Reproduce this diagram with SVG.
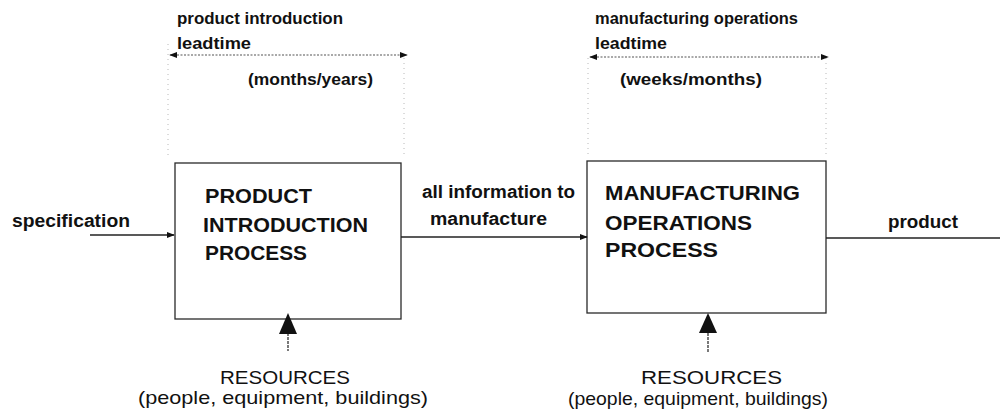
<svg xmlns="http://www.w3.org/2000/svg" width="1000" height="416" viewBox="0 0 1000 416">
  <style>
    .bg { fill: #ffffff; }
    .box { fill: none; stroke: #2a2a2a; stroke-width: 1.3; }
    .flow { fill: none; stroke: #222; stroke-width: 1.3; }
    .span { fill: none; stroke: #555; stroke-width: 1.2; stroke-dasharray: 2 1.5; }
    .guide { fill: none; stroke: #b8b8b8; stroke-width: 1; stroke-dasharray: 1 4; }
    .stem { fill: none; stroke: #222; stroke-width: 1.2; stroke-dasharray: 3 1; }
    .head { fill: #111; }
    text { font-family: "Liberation Sans", Arial, sans-serif; fill: #111; }
    .note { font-size: 16px; font-weight: bold; }
    .title { font-size: 21px; font-weight: bold; }
    .label { font-size: 18px; font-weight: bold; }
    .res { font-size: 19px; }
  </style>
  <defs>
    <marker id="arrow" viewBox="0 0 10 10" refX="9" refY="5" markerWidth="8" markerHeight="8" markerUnits="userSpaceOnUse" orient="auto-start-reverse">
      <path d="M0,1 L10,5 L0,9 Z" class="head"/>
    </marker>
  </defs>
  <rect class="bg" x="0" y="0" width="1000" height="416"/>

  <!-- lead-time spans above each process -->
  <g id="lead-product">
    <line class="guide" x1="168" y1="44" x2="168" y2="158"/>
    <line class="guide" x1="404" y1="58" x2="404" y2="158"/>
    <line class="span" x1="170" y1="55" x2="407" y2="55" marker-start="url(#arrow)" marker-end="url(#arrow)"/>
    <text class="note" x="177" y="24" textLength="166" lengthAdjust="spacingAndGlyphs">product introduction</text>
    <text class="note" x="177" y="49" textLength="74" lengthAdjust="spacingAndGlyphs">leadtime</text>
    <text class="note" x="248" y="85" textLength="125" lengthAdjust="spacingAndGlyphs">(months/years)</text>
  </g>
  <g id="lead-manufacturing">
    <line class="guide" x1="588" y1="58" x2="588" y2="156"/>
    <line class="guide" x1="826" y1="58" x2="826" y2="156"/>
    <line class="span" x1="590" y1="57" x2="828" y2="57" marker-start="url(#arrow)" marker-end="url(#arrow)"/>
    <text class="note" x="595" y="24" textLength="203" lengthAdjust="spacingAndGlyphs">manufacturing operations</text>
    <text class="note" x="595" y="49" textLength="72" lengthAdjust="spacingAndGlyphs">leadtime</text>
    <text class="note" x="620" y="85" textLength="142" lengthAdjust="spacingAndGlyphs">(weeks/months)</text>
  </g>

  <!-- process boxes -->
  <g id="product-introduction">
    <rect class="box" x="175" y="163" width="226" height="156"/>
    <text class="title" x="205" y="203" textLength="107" lengthAdjust="spacingAndGlyphs">PRODUCT</text>
    <text class="title" x="203" y="232" textLength="165" lengthAdjust="spacingAndGlyphs">INTRODUCTION</text>
    <text class="title" x="205" y="260" textLength="102" lengthAdjust="spacingAndGlyphs">PROCESS</text>
  </g>
  <g id="manufacturing-operations">
    <rect class="box" x="587" y="161" width="239" height="152"/>
    <text class="title" x="605" y="200" textLength="195" lengthAdjust="spacingAndGlyphs">MANUFACTURING</text>
    <text class="title" x="605" y="230" textLength="147" lengthAdjust="spacingAndGlyphs">OPERATIONS</text>
    <text class="title" x="605" y="257" textLength="113" lengthAdjust="spacingAndGlyphs">PROCESS</text>
  </g>

  <!-- resource inputs -->
  <g id="resources-product">
    <text class="res" x="220" y="384" textLength="130" lengthAdjust="spacingAndGlyphs">RESOURCES</text>
    <text class="res" x="138" y="404" textLength="290" lengthAdjust="spacingAndGlyphs">(people, equipment, buildings)</text>
  </g>
  <g id="resources-manufacturing">
    <text class="res" x="641" y="384" textLength="141" lengthAdjust="spacingAndGlyphs">RESOURCES</text>
    <text class="res" x="568" y="405" textLength="260" lengthAdjust="spacingAndGlyphs">(people, equipment, buildings)</text>
  </g>

  <!-- flow labels -->
  <g id="specification">
    <text class="label" x="12" y="227" textLength="118" lengthAdjust="spacingAndGlyphs">specification</text>
  </g>
  <g id="information">
    <text class="label" x="422" y="198" textLength="153" lengthAdjust="spacingAndGlyphs">all information to</text>
    <text class="label" x="430" y="225" textLength="117" lengthAdjust="spacingAndGlyphs">manufacture</text>
  </g>
  <g id="product">
    <text class="label" x="888" y="228" textLength="70" lengthAdjust="spacingAndGlyphs">product</text>
  </g>

  <!-- connectors -->
  <g id="connectors">
    <line class="flow" x1="90" y1="235" x2="174" y2="235" marker-end="url(#arrow)"/>
    <line class="flow" x1="401" y1="237" x2="587" y2="237" marker-end="url(#arrow)"/>
    <line class="flow" x1="826" y1="238" x2="1000" y2="238"/>
    <line class="stem" x1="288" y1="333" x2="288" y2="351"/>
    <polygon class="head" points="288,313 279,334 297,334"/>
    <line class="stem" x1="708" y1="333" x2="708" y2="352"/>
    <polygon class="head" points="708,313 699,333 717,333"/>
  </g>
</svg>
